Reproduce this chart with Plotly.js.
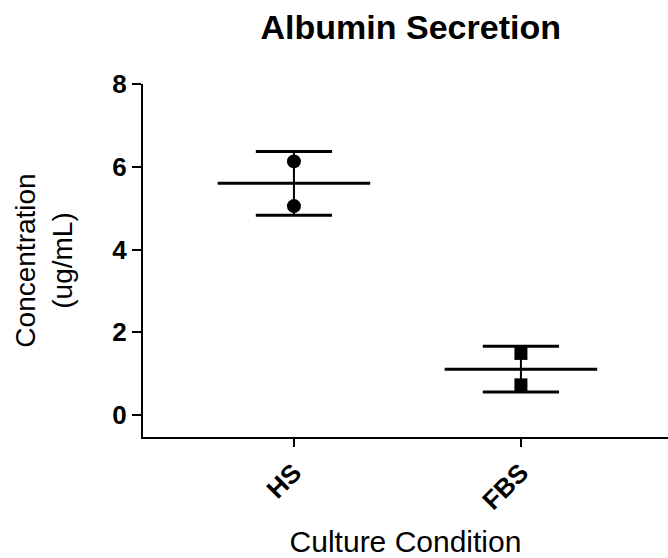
<!DOCTYPE html>
<html>
<head>
<meta charset="utf-8">
<script src="https://cdn.plot.ly/plotly-3.0.1.min.js"></script>
<style>html,body{margin:0;padding:0;background:#fff;}#chart{width:668px;height:558px;}</style>
</head>
<body>
<div id="chart"></div>
<script>
// Data
const categories = ["HS", "FBS"];
const hsValues = [6.13, 5.05];
const fbsValues = [1.49, 0.73];
const means = [5.60, 1.11];
const sds = [0.77, 0.55];
const yTickVals = [0, 2, 4, 6, 8];

const FONT = '"Liberation Sans", Arial, Helvetica, sans-serif';
const xIdx = categories.map((c, i) => i);
const meanHalf = 0.336;   // half width of mean line (axis units)
const capHalf = 0.168;    // half width of error caps (axis units)

// mean lines
const meanX = [], meanY = [];
xIdx.forEach((x, i) => { meanX.push(x - meanHalf, x + meanHalf, null); meanY.push(means[i], means[i], null); });
// caps
const capX = [], capY = [];
xIdx.forEach((x, i) => {
  capX.push(x - capHalf, x + capHalf, null, x - capHalf, x + capHalf, null);
  capY.push(means[i] + sds[i], means[i] + sds[i], null, means[i] - sds[i], means[i] - sds[i], null);
});

const traces = [
  { x: meanX, y: meanY, mode: 'lines', line: { color: '#000', width: 3 }, hoverinfo: 'skip', showlegend: false },
  { x: capX, y: capY, mode: 'lines', line: { color: '#000', width: 3 }, hoverinfo: 'skip', showlegend: false },
  { x: xIdx, y: means, mode: 'markers', marker: { size: 1, opacity: 0 },
    error_y: { type: 'data', array: sds, visible: true, color: '#000', thickness: 2, width: 0 }, showlegend: false },
  { x: hsValues.map(() => xIdx[0]), y: hsValues, mode: 'markers', name: categories[0],
    marker: { symbol: 'circle', size: 14, color: '#000' }, showlegend: false },
  { x: fbsValues.map(() => xIdx[1]), y: fbsValues, mode: 'markers', name: categories[1],
    marker: { symbol: 'square', size: 13, color: '#000' }, showlegend: false }
];

const layout = {
  width: 668, height: 558,
  margin: { l: 143, r: 0, t: 84, b: 121, pad: 0 },
  paper_bgcolor: '#fff', plot_bgcolor: '#fff',
  font: { family: FONT, color: '#000' },
  title: { text: '<b>Albumin Secretion</b>', font: { family: FONT, size: 34, color: '#000' },
           xref: 'paper', x: 0.51, xanchor: 'center', yref: 'container', y: 0.952, yanchor: 'middle' },
  xaxis: {
    range: [-0.665, 1.648], tickvals: xIdx, ticktext: categories.map(c => '<b>' + c + '</b>'),
    tickangle: -45, ticks: 'outside', ticklen: 8, tickwidth: 2, tickcolor: '#000',
    showline: true, linecolor: '#000', linewidth: 2, showgrid: false, zeroline: false,
    tickfont: { family: FONT, size: 26, color: '#000' },
    title: { text: 'Culture Condition', font: { family: FONT, size: 30, color: '#000' }, standoff: 27 }
  },
  yaxis: {
    range: [-0.53, 8], tickvals: yTickVals, ticktext: yTickVals.map(v => '<b>' + v + '</b>'),
    ticks: 'outside', ticklen: 9, tickwidth: 2, tickcolor: '#000',
    showline: true, linecolor: '#000', linewidth: 2, showgrid: false, zeroline: false,
    tickfont: { family: FONT, size: 26, color: '#000' },
    title: { text: 'Concentration<br>(ug/mL)', font: { family: FONT, size: 28, color: '#000' }, standoff: 32 }
  },
  showlegend: false
};

Plotly.newPlot('chart', traces, layout, { staticPlot: true, displayModeBar: false });
</script>
</body>
</html>
